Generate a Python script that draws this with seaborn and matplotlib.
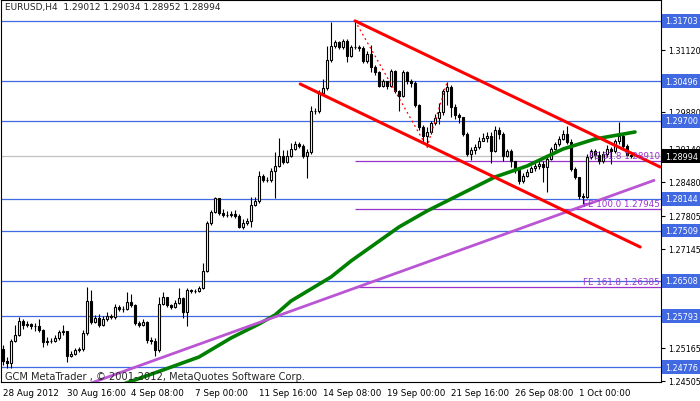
import pandas as pd
import seaborn as sns
import matplotlib.pyplot as plt

# EURUSD H4 candles, 28 Aug - 3 Oct 2012
first_open = 1.2514
closes = [1.2490, 1.2486, 1.2530, 1.2542, 1.2570, 1.2562, 1.2564, 1.2560, 1.2560, 1.2552,
          1.2528, 1.2530, 1.2530, 1.2536, 1.2548, 1.2550, 1.2500, 1.2504, 1.2512, 1.2514,
          1.2546, 1.2610, 1.2568, 1.2576, 1.2562, 1.2574, 1.2580, 1.2578, 1.2598, 1.2594,
          1.2594, 1.2608, 1.2602, 1.2566, 1.2562, 1.2568, 1.2532, 1.2530, 1.2512, 1.2604,
          1.2618, 1.2602, 1.2598, 1.2606, 1.2616, 1.2588, 1.2632, 1.2630, 1.2630, 1.2636,
          1.2670, 1.2766, 1.2788, 1.2816, 1.2786, 1.2782, 1.2782, 1.2784, 1.2780, 1.2758,
          1.2766, 1.2770, 1.2802, 1.2810, 1.2860, 1.2852, 1.2852, 1.2870, 1.2880, 1.2900,
          1.2888, 1.2900, 1.2914, 1.2924, 1.2920, 1.2900, 1.2908, 1.2990, 1.2990, 1.3026,
          1.3036, 1.3092, 1.3120, 1.3128, 1.3118, 1.3130, 1.3100, 1.3118, 1.3118, 1.3116,
          1.3090, 1.3104, 1.3078, 1.3068, 1.3040, 1.3050, 1.3040, 1.3070, 1.3030, 1.3020,
          1.3068, 1.3050, 1.3046, 1.3002, 1.2958, 1.2940, 1.2948, 1.2966, 1.2976, 1.2988,
          1.3030, 1.3038, 1.2998, 1.2982, 1.2978, 1.2944, 1.2904, 1.2912, 1.2918, 1.2930,
          1.2936, 1.2940, 1.2910, 1.2952, 1.2944, 1.2900, 1.2910, 1.2890, 1.2872, 1.2850,
          1.2860, 1.2868, 1.2876, 1.2880, 1.2884, 1.2878, 1.2894, 1.2914, 1.2924, 1.2934,
          1.2944, 1.2928, 1.2874, 1.2858, 1.2820, 1.2818, 1.2898, 1.2910, 1.2902, 1.2890,
          1.2904, 1.2914, 1.2910, 1.2930, 1.2940, 1.2920, 1.29012, 1.28994]
highs = [1.2522, 1.2498, 1.2534, 1.2562, 1.2578, 1.2574, 1.2570, 1.2566, 1.2566, 1.2574,
         1.2554, 1.2538, 1.2536, 1.2542, 1.2552, 1.2562, 1.2548, 1.2510, 1.2516, 1.2518,
         1.2552, 1.2638, 1.2632, 1.2582, 1.2584, 1.2580, 1.2588, 1.2584, 1.2604, 1.2602,
         1.2600, 1.2628, 1.2624, 1.2604, 1.2570, 1.2574, 1.2570, 1.2538, 1.2536, 1.2618,
         1.2628, 1.2608, 1.2604, 1.2612, 1.2636, 1.2618, 1.2636, 1.2634, 1.2634, 1.2640,
         1.2686, 1.2770, 1.2792, 1.2818, 1.2816, 1.2794, 1.2790, 1.2790, 1.2792, 1.2784,
         1.2774, 1.2776, 1.2818, 1.2818, 1.2870, 1.2864, 1.2858, 1.2876, 1.2908, 1.2936,
         1.2912, 1.2912, 1.2926, 1.2930, 1.2928, 1.2924, 1.2914, 1.3000, 1.2996, 1.3032,
         1.3054, 1.3120, 1.3168, 1.3132, 1.3130, 1.3134, 1.3134, 1.3122, 1.31703, 1.3122,
         1.3120, 1.3110, 1.3122, 1.3082, 1.3070, 1.3054, 1.3050, 1.3074, 1.3072, 1.3032,
         1.3072, 1.3070, 1.3054, 1.3050, 1.3004, 1.2962, 1.2958, 1.2970, 1.2984, 1.3006,
         1.3034, 1.30471, 1.3042, 1.3004, 1.2986, 1.2978, 1.2948, 1.2918, 1.2924, 1.2938,
         1.2946, 1.2948, 1.2948, 1.2960, 1.2958, 1.2948, 1.2914, 1.2914, 1.2884, 1.2874,
         1.2866, 1.2874, 1.2880, 1.2888, 1.2894, 1.2890, 1.2898, 1.2918, 1.2928, 1.2940,
         1.2952, 1.2960, 1.2934, 1.2878, 1.2854, 1.2826, 1.2904, 1.2914, 1.2914, 1.2910,
         1.2910, 1.2922, 1.2918, 1.2934, 1.2968, 1.2944, 1.2924, 1.29034]
lows = [1.2482, 1.2476, 1.2476, 1.2528, 1.2540, 1.2554, 1.2558, 1.2554, 1.2550, 1.2548,
        1.2518, 1.2522, 1.2526, 1.2528, 1.2532, 1.2542, 1.2488, 1.2498, 1.2502, 1.2508,
        1.2510, 1.2542, 1.2564, 1.2566, 1.2558, 1.2560, 1.2570, 1.2574, 1.2574, 1.2590,
        1.2588, 1.2592, 1.2598, 1.2562, 1.2558, 1.2560, 1.2526, 1.2524, 1.2500, 1.2508,
        1.2602, 1.2598, 1.2594, 1.2596, 1.2604, 1.2576, 1.2560, 1.2626, 1.2626, 1.2628,
        1.2634, 1.2668, 1.2762, 1.2786, 1.2782, 1.2778, 1.2778, 1.2778, 1.2776, 1.2756,
        1.2754, 1.2762, 1.2758, 1.2800, 1.2806, 1.2848, 1.2848, 1.2848, 1.2816, 1.2878,
        1.2884, 1.2886, 1.2898, 1.2912, 1.2916, 1.2896, 1.2856, 1.2904, 1.2984, 1.2986,
        1.3022, 1.3032, 1.3088, 1.3116, 1.3114, 1.3114, 1.3088, 1.3098, 1.3114, 1.3110,
        1.3086, 1.3086, 1.3068, 1.3062, 1.3038, 1.3038, 1.3034, 1.3038, 1.3026, 1.2990,
        1.3018, 1.3044, 1.3038, 1.2998, 1.2952, 1.2926, 1.29177, 1.2944, 1.2962, 1.2964,
        1.2982, 1.3002, 1.2978, 1.2974, 1.2966, 1.2940, 1.2900, 1.2892, 1.2904, 1.2914,
        1.2930, 1.2928, 1.2886, 1.2908, 1.2934, 1.2890, 1.2898, 1.2878, 1.2866, 1.2844,
        1.2846, 1.2858, 1.2868, 1.2870, 1.2874, 1.2848, 1.2828, 1.2892, 1.2912, 1.2920,
        1.2932, 1.2924, 1.2870, 1.2854, 1.2814, 1.2804, 1.2816, 1.2894, 1.2894, 1.2884,
        1.2886, 1.2898, 1.2884, 1.2906, 1.2924, 1.2914, 1.2900, 1.28952]

# moving average (green), sampled along the line
ma_bars = [28, 40, 49, 57, 64, 68, 72, 82, 87, 93, 99, 106, 112, 118, 123, 131, 140, 148, 158]
ma_vals = [1.2438, 1.2472, 1.2498, 1.2536, 1.2564, 1.2582, 1.2610, 1.2658, 1.2690, 1.2724,
           1.2758, 1.2790, 1.2814, 1.2838, 1.2858, 1.2880, 1.2914, 1.2934, 1.2948]

# horizontal levels (blue) and FE levels (purple)
levels = [1.31703, 1.30496, 1.29700, 1.28144, 1.27509, 1.26508, 1.25793, 1.24776]
fe_names = ['FE 61.8', 'FE 100.0', 'FE 161.8']
fe_levels = [1.28910, 1.27945, 1.26385]
fe_points_bar = [88, 106, 111]
fe_points_val = [1.31703, 1.29177, 1.30471]
bid = 1.28994

# trend lines: (bar, price) end points
trend_bars = [20, 163]
trend_vals = [1.2440, 1.2852]
chan_up_bars = [88, 164.3]
chan_up_vals = [1.31703, 1.2878]
chan_lo_bars = [74.3, 159.3]
chan_lo_vals = [1.3044, 1.2718]

tick_bars = [0, 16, 32, 48, 64, 80, 96, 112, 128, 144]
tick_labels = ['28 Aug 2012', '30 Aug 16:00', '4 Sep 08:00', '7 Sep 00:00', '11 Sep 16:00',
               '14 Sep 08:00', '19 Sep 00:00', '21 Sep 16:00', '26 Sep 08:00', '1 Oct 00:00']
ytick_vals = [1.24505, 1.25165, 1.27145, 1.27805, 1.28480, 1.29140, 1.29880, 1.31120, 1.31780]


def main():
    sns.set_style('white')
    plt.rcParams['font.family'] = ['DejaVu Sans']
    fs = 6.3
    fs_r = 5.8

    df = pd.DataFrame({'close': closes, 'high': highs, 'low': lows})
    df['open'] = [first_open] + closes[:-1]
    df['bar'] = range(len(df))

    fig = plt.figure(figsize=(7, 4.02), dpi=100)
    ax = fig.add_axes([1 / 700, 19 / 402, 660 / 700, 382 / 402])
    ax.set_xlim(-0.5, 164.5)
    ax.set_ylim(1.2448, 1.3212)

    for lv in levels:
        ax.axhline(lv, color='#4169E1', lw=0.9, zorder=1)
    ax.axhline(bid, color='#C0C0C0', lw=0.9, zorder=1)
    for lv in fe_levels:
        ax.hlines(lv, fe_points_bar[0], 164.5, color='#9932CC', lw=0.9, zorder=1)

    # candles
    ax.vlines(df['bar'], df['low'], df['high'], color='black', lw=0.8, zorder=3)
    up = df['close'] >= df['open']
    dn = ~up
    ax.bar(df['bar'][up], (df['close'] - df['open'])[up], bottom=df['open'][up], width=0.55,
           facecolor='white', edgecolor='black', lw=0.8, zorder=4)
    ax.bar(df['bar'][dn], (df['close'] - df['open'])[dn], bottom=df['open'][dn], width=0.55,
           facecolor='black', edgecolor='black', lw=0.8, zorder=4)

    # indicators / objects
    sns.lineplot(x=ma_bars, y=ma_vals, ax=ax, color='#008000', lw=2.6, zorder=6)
    ax.plot(trend_bars, trend_vals, color='#BA55D3', lw=2.0, zorder=6, solid_capstyle='butt')
    ax.plot(chan_up_bars, chan_up_vals, color='#FF0000', lw=2.2, zorder=7)
    ax.plot(chan_lo_bars, chan_lo_vals, color='#FF0000', lw=2.2, zorder=7)
    ax.plot(fe_points_bar, fe_points_val, color='#FF0000', lw=0.9, ls=(0, (1.5, 2.5)), zorder=7)

    for name, lv in zip(fe_names, fe_levels):
        ax.text(164.2, lv + 0.0001, f'{name} {lv:.5f}', color='#9932CC', fontsize=fs,
                ha='right', va='bottom', zorder=8)

    # axes styling like MetaTrader
    for sp in ax.spines.values():
        sp.set_color('black')
        sp.set_linewidth(0.8)
    ax.yaxis.tick_right()
    ax.set_yticks(ytick_vals)
    ax.set_yticklabels([f'{v:.5f}' for v in ytick_vals])
    ax.set_xticks(tick_bars)
    ax.set_xticklabels(tick_labels)
    for lbl in ax.get_xticklabels():
        lbl.set_ha('left')
    ax.tick_params(axis='both', direction='out', length=3, width=0.8, labelsize=fs,
                   colors='black', pad=1.5)
    ax.tick_params(axis='y', pad=2.5, labelsize=fs_r)

    for lv in levels:
        ax.annotate(f'{lv:.5f}', xy=(1, lv), xycoords=ax.get_yaxis_transform(),
                    xytext=(2.8, 0), textcoords='offset points', ha='left', va='center',
                    color='white', fontsize=fs_r, annotation_clip=False, zorder=9,
                    bbox=dict(boxstyle='square,pad=0.3', fc='#4169E1', ec='none'))
    ax.annotate(f'{bid:.5f}', xy=(1, bid), xycoords=ax.get_yaxis_transform(),
                xytext=(2.8, 0), textcoords='offset points', ha='left', va='center',
                color='white', fontsize=fs_r, annotation_clip=False, zorder=9,
                bbox=dict(boxstyle='square,pad=0.3', fc='black', ec='none'))

    ax.text(0.006, 0.982, 'EURUSD,H4  1.29012 1.29034 1.28952 1.28994',
            transform=ax.transAxes, fontsize=fs + 0.2, ha='left', va='center', zorder=9)
    ax.text(0.006, 0.016, 'GCM MetaTrader , \u00a9 2001-2012, MetaQuotes Software Corp.',
            transform=ax.transAxes, fontsize=fs + 0.8, ha='left', va='center', zorder=9)

    ax.set_xlabel('')
    ax.set_ylabel('')
    fig.savefig('out.png', dpi=100)


if __name__ == "__main__":
    main()
